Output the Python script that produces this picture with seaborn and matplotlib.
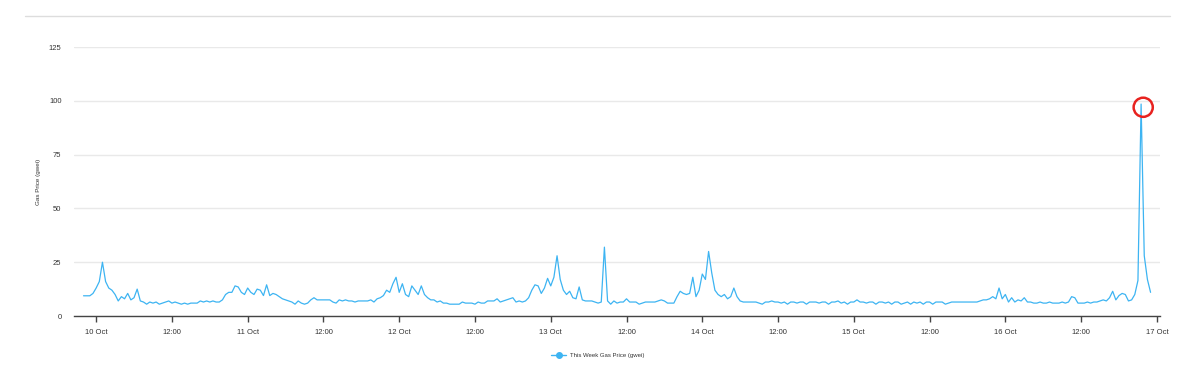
import pandas as pd
import seaborn as sns
import matplotlib.dates as mdates
from matplotlib import pyplot as plt
from matplotlib.lines import Line2D
from matplotlib.ticker import FuncFormatter

# half-hourly gas price readings, starting 9 Oct 22:00
start = '2023-10-09 22:00'
oct09 = [9.4, 9.4, 9.4, 10.5]
oct10 = [13, 16, 25, 16, 13, 12, 10, 7, 9, 8, 10.5, 7.5,
         8.5, 12.5, 7, 6.5, 5.5, 6.5, 6, 6.5, 5.5, 6, 6.5, 7,
         6, 6.5, 6, 5.5, 6, 5.5, 6, 6, 6, 7, 6.5, 7,
         6.5, 7, 6.5, 6.5, 7.5, 10, 11, 11, 14, 13.5, 11, 10]
oct11 = [13, 11, 10, 12.5, 12, 9.5, 14.5, 9.5, 10.5, 10, 9, 8,
         7.5, 7, 6.5, 5.5, 7, 6, 5.5, 6, 7.5, 8.5, 7.5, 7.5,
         7.5, 7.5, 7.5, 6.5, 6, 7.5, 7, 7.5, 7, 7, 6.5, 7,
         7, 7, 7, 7.5, 6.5, 8, 8.5, 9.5, 12, 11, 15, 18]
oct12 = [11, 15, 10, 9, 14, 12, 10, 14, 10, 8.5, 7.5, 7.5,
         6.5, 7, 6, 6, 5.5, 5.5, 5.5, 5.5, 6.5, 6, 6, 6,
         5.5, 6.5, 6, 6, 7, 7, 7, 8, 6.5, 7, 7.5, 8,
         8.5, 6.5, 7, 6.5, 7, 8.5, 12, 14.5, 14, 10.5, 13, 17.5]
oct13 = [14, 18, 28, 17, 12, 10, 11.5, 8.5, 8, 13.5, 7.5, 7,
         7, 7, 6.5, 6, 6.5, 32, 7, 5.5, 7, 6, 6.5, 6.5,
         8, 6.5, 6.5, 6.5, 5.5, 6, 6.5, 6.5, 6.5, 6.5, 7, 7.5,
         7, 6, 6, 6, 9, 11.5, 10.5, 10, 10.5, 18, 9, 12]
oct14 = [19.5, 17, 30, 20, 12, 10, 9, 10, 8, 9, 13, 9,
         7, 6.5, 6.5, 6.5, 6.5, 6.5, 6, 5.5, 6.5, 6.5, 7, 6.5,
         6.5, 6, 6.5, 5.5, 6.5, 6.5, 6, 6.5, 6.5, 5.5, 6.5, 6.5,
         6.5, 6, 6.5, 6.5, 5.5, 6.5, 6.5, 7, 6, 6.5, 5.5, 6.5]
oct15 = [6.5, 7.5, 6.5, 6.5, 6, 6.5, 6.5, 5.5, 6.5, 6.5, 6, 6.5,
         5.5, 6.5, 6.5, 5.5, 6, 6.5, 5.5, 6.5, 6, 6.5, 5.5, 6.5,
         6.5, 5.5, 6.5, 6.5, 6.5, 5.5, 6, 6.5, 6.5, 6.5, 6.5, 6.5,
         6.5, 6.5, 6.5, 6.5, 7, 7.5, 7.5, 8, 9, 8, 13, 8]
oct16 = [10, 6.5, 8.5, 6.5, 7.5, 7, 8.5, 6.5, 6.5, 6, 6, 6.5,
         6, 6, 6.5, 6, 6, 6, 6.5, 6, 6.5, 9, 8.5, 6,
         6, 6, 6.5, 6, 6.5, 6.5, 7, 7.5, 7, 8.5, 11.5, 7.5,
         9.5, 10.5, 10, 7, 7.5, 10, 16.5, 98.5, 28, 17, 11]

prices = oct09 + oct10 + oct11 + oct12 + oct13 + oct14 + oct15 + oct16
times = pd.date_range(start, periods=len(prices), freq='30min')
df = pd.DataFrame({'time': times, 'price': prices})

sns.set_theme(style='white')
plt.rcParams['font.family'] = ['Liberation Sans', 'DejaVu Sans']

blue = '#3db4f2'

fig = plt.figure(figsize=(12, 3.65), dpi=100)
ax = fig.add_axes([0.0617, 0.1342, 0.905, 0.737])

sns.lineplot(data=df, x='time', y='price', color=blue, linewidth=0.9, ax=ax,
             legend=False)

# highlight the maximum
peak = df.loc[df['price'].idxmax()]
ax.scatter([peak['time'] + pd.Timedelta('20min')], [peak['price'] - 1.5], s=190,
           facecolors='none', edgecolors='#e8221f', linewidths=1.8, zorder=5)

ax.set_ylim(0, 125)
ax.set_yticks([0, 25, 50, 75, 100, 125])
ax.set_xlim(pd.Timestamp('2023-10-09 20:30'), pd.Timestamp('2023-10-17 00:30'))

ax.xaxis.set_major_locator(mdates.HourLocator(byhour=[0, 12]))

def fmt_tick(x, pos):
    d = mdates.num2date(x)
    if d.hour == 0:
        return f'{d.day} {d.strftime("%b")}'
    return d.strftime('%H:%M')

ax.xaxis.set_major_formatter(FuncFormatter(fmt_tick))

ax.grid(axis='y', color='#e9e9e9', linewidth=1)
ax.grid(axis='x', visible=False)
for side in ['top', 'right', 'left']:
    ax.spines[side].set_visible(False)
ax.spines['bottom'].set_color('#444444')
ax.spines['bottom'].set_linewidth(1)

ax.tick_params(axis='x', bottom=True, length=4.5, width=1, color='#444444',
               labelsize=5.5, labelcolor='#333333', pad=5)
ax.tick_params(axis='y', left=False, length=0, labelsize=5.5,
               labelcolor='#333333', pad=9)

ax.set_xlabel('')
ax.set_ylabel('Gas Price (gwei)', fontsize=4.5, color='#333333')
ax.yaxis.set_label_coords(-0.03, 0.5)

handle = Line2D([], [], color=blue, linewidth=1, marker='o', markersize=4)
fig.legend([handle], ['This Week Gas Price (gwei)'], loc='center',
           bbox_to_anchor=(0.498, 0.026), frameon=False, fontsize=4.3,
           handlelength=2.5, handletextpad=0.6, labelcolor='#333333')

# thin border line at the top of the panel
fig.add_artist(Line2D([25 / 1200, 1170 / 1200], [1 - 16 / 365, 1 - 16 / 365],
                      color='#dddddd', linewidth=1))

fig.savefig('out.png', dpi=100)
